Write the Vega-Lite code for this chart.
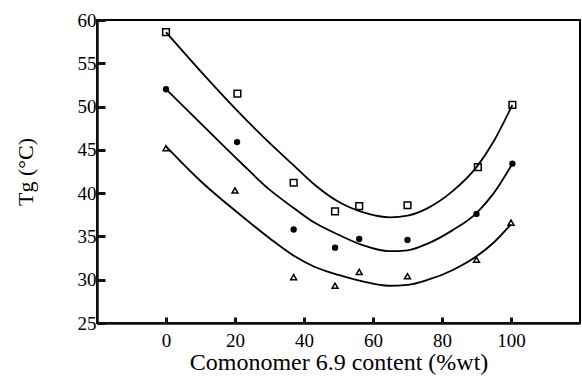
{
  "$schema": "https://vega.github.io/schema/vega-lite/v6.json",
  "autosize": "none",
  "width": 483,
  "height": 303,
  "padding": {"left": 97, "top": 20, "right": 2, "bottom": 57},
  "background": "white",
  "config": {
    "view": {"stroke": "#000000", "strokeWidth": 2},
    "font": "Liberation Serif"
  },
  "datasets": {
    "points": [
      {"x": 0, "y": 58.6, "s": "A"}, {"x": 20.7, "y": 51.5, "s": "A"}, {"x": 37, "y": 41.2, "s": "A"},
      {"x": 49, "y": 37.9, "s": "A"}, {"x": 56, "y": 38.5, "s": "A"}, {"x": 70, "y": 38.6, "s": "A"},
      {"x": 90.4, "y": 43.0, "s": "A"}, {"x": 100.4, "y": 50.2, "s": "A"},
      {"x": 0, "y": 52.0, "s": "B"}, {"x": 20.6, "y": 45.9, "s": "B"}, {"x": 37, "y": 35.8, "s": "B"},
      {"x": 49, "y": 33.7, "s": "B"}, {"x": 56, "y": 34.7, "s": "B"}, {"x": 70, "y": 34.6, "s": "B"},
      {"x": 90, "y": 37.6, "s": "B"}, {"x": 100.4, "y": 43.4, "s": "B"},
      {"x": 0, "y": 45.2, "s": "C"}, {"x": 20, "y": 40.3, "s": "C"}, {"x": 37, "y": 30.3, "s": "C"},
      {"x": 49, "y": 29.3, "s": "C"}, {"x": 56, "y": 30.9, "s": "C"}, {"x": 70, "y": 30.4, "s": "C"},
      {"x": 90, "y": 32.3, "s": "C"}, {"x": 100, "y": 36.6, "s": "C"}
    ],
    "curves": [
      {"x": 0, "y": 58.6, "s": "A"}, {"x": 10, "y": 54.1, "s": "A"}, {"x": 20, "y": 49.8, "s": "A"},
      {"x": 30, "y": 45.8, "s": "A"}, {"x": 37.3, "y": 43.1, "s": "A"}, {"x": 43, "y": 41.0, "s": "A"},
      {"x": 50, "y": 39.0, "s": "A"}, {"x": 57, "y": 37.8, "s": "A"}, {"x": 65, "y": 37.2, "s": "A"},
      {"x": 70, "y": 37.4, "s": "A"}, {"x": 76, "y": 38.3, "s": "A"}, {"x": 83, "y": 40.2, "s": "A"},
      {"x": 90, "y": 43.0, "s": "A"}, {"x": 95, "y": 46.0, "s": "A"}, {"x": 100.4, "y": 50.2, "s": "A"},
      {"x": 0, "y": 52.0, "s": "B"}, {"x": 10, "y": 48.1, "s": "B"}, {"x": 21.5, "y": 43.6, "s": "B"},
      {"x": 30, "y": 40.4, "s": "B"}, {"x": 37.3, "y": 38.2, "s": "B"}, {"x": 43, "y": 36.6, "s": "B"},
      {"x": 50, "y": 35.2, "s": "B"}, {"x": 57, "y": 34.0, "s": "B"}, {"x": 64.6, "y": 33.3, "s": "B"},
      {"x": 70, "y": 33.4, "s": "B"}, {"x": 76, "y": 34.2, "s": "B"}, {"x": 83, "y": 35.7, "s": "B"},
      {"x": 90, "y": 37.7, "s": "B"}, {"x": 95, "y": 40.0, "s": "B"}, {"x": 100.4, "y": 43.4, "s": "B"},
      {"x": 0, "y": 45.4, "s": "C"}, {"x": 10, "y": 41.4, "s": "C"}, {"x": 21.5, "y": 37.5, "s": "C"},
      {"x": 30, "y": 34.8, "s": "C"}, {"x": 37.3, "y": 32.7, "s": "C"}, {"x": 43, "y": 31.5, "s": "C"},
      {"x": 50, "y": 30.55, "s": "C"}, {"x": 57, "y": 29.8, "s": "C"}, {"x": 64.6, "y": 29.3, "s": "C"},
      {"x": 70, "y": 29.4, "s": "C"}, {"x": 76, "y": 30.0, "s": "C"}, {"x": 83, "y": 31.1, "s": "C"},
      {"x": 90, "y": 32.7, "s": "C"}, {"x": 95, "y": 34.3, "s": "C"}, {"x": 100, "y": 36.4, "s": "C"}
    ]
  },
  "layer": [
    {
      "data": {"name": "points"},
      "transform": [{"filter": "datum.s === 'A'"}],
      "mark": {"type": "point", "shape": "square", "filled": false, "color": "#000000", "size": 45, "strokeWidth": 1.5, "opacity": 1},
      "encoding": {
        "x": {
          "field": "x", "type": "quantitative",
          "scale": {"domain": [-20, 120], "nice": false, "zero": false},
          "axis": {
            "values": [0, 20, 40, 60, 80, 100],
            "title": "Comonomer 6.9 content (%wt)",
            "grid": false,
            "domainColor": "#111111", "domainWidth": 2.5,
            "tickColor": "#111111", "tickWidth": 3, "tickSize": -6,
            "labelColor": "#000000", "labelFontSize": 19,
            "labelPadding": 14,
            "titleColor": "#000000", "titleFontSize": 24, "titleFontWeight": "normal",
            "titlePadding": 0
          }
        },
        "y": {
          "field": "y", "type": "quantitative",
          "scale": {"domain": [25, 60], "nice": false, "zero": false},
          "axis": {
            "title": "Tg (°C)",
            "grid": false,
            "domainColor": "#111111", "domainWidth": 2.5,
            "tickColor": "#111111", "tickWidth": 3, "tickSize": -8,
            "labelColor": "#000000", "labelFontSize": 19,
            "labelPadding": 9,
            "titleColor": "#000000", "titleFontSize": 22, "titleFontWeight": "normal",
            "titlePadding": 40
          }
        }
      }
    },
    {
      "data": {"name": "curves"},
      "mark": {"type": "line", "interpolate": "monotone", "color": "#000000", "strokeWidth": 1.8},
      "encoding": {
        "x": {"field": "x", "type": "quantitative"},
        "y": {"field": "y", "type": "quantitative"},
        "detail": {"field": "s"}
      }
    },
    {
      "data": {"name": "points"},
      "transform": [{"filter": "datum.s === 'B'"}],
      "mark": {"type": "point", "shape": "circle", "filled": true, "color": "#000000", "size": 40, "opacity": 1},
      "encoding": {"x": {"field": "x", "type": "quantitative"}, "y": {"field": "y", "type": "quantitative"}}
    },
    {
      "data": {"name": "points"},
      "transform": [{"filter": "datum.s === 'C'"}],
      "mark": {"type": "point", "shape": "triangle-up", "filled": false, "color": "#000000", "size": 35, "strokeWidth": 1.5, "opacity": 1},
      "encoding": {"x": {"field": "x", "type": "quantitative"}, "y": {"field": "y", "type": "quantitative"}}
    }
  ]
}
